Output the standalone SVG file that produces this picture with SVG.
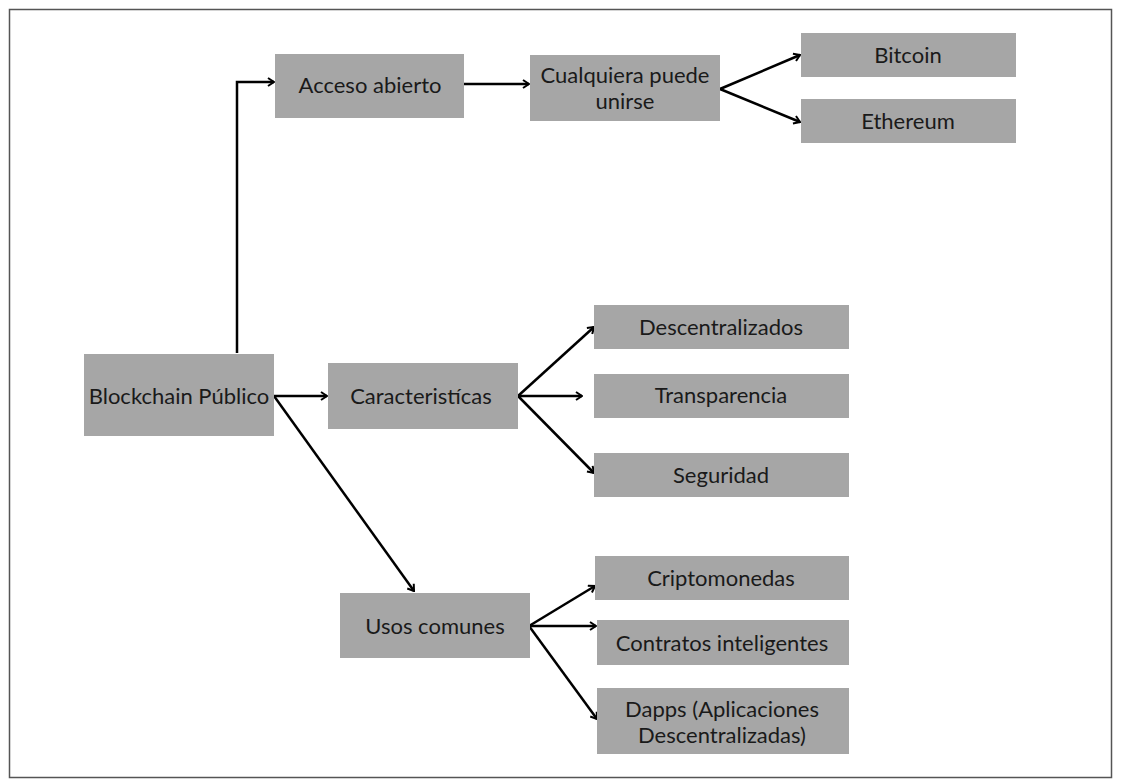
<svg xmlns="http://www.w3.org/2000/svg" width="1122" height="781" viewBox="0 0 1122 781">
<defs>
<marker id="arr" viewBox="0 0 10 10" refX="9" refY="5" markerWidth="10" markerHeight="10" markerUnits="userSpaceOnUse" orient="auto">
<path d="M3,1 L9,5 L3,9" fill="none" stroke="#000" stroke-width="2"/>
</marker>
<style>
.box{fill:#a6a6a6;}
.t{font-family:Lato,"Liberation Sans",sans-serif;font-size:22px;fill:#1a1a1a;text-anchor:middle;dominant-baseline:central;}
.c{fill:none;stroke:#000;stroke-width:2.5;marker-end:url(#arr);}
</style>
</defs>
<rect x="9.5" y="9.5" width="1102" height="768" fill="#fff" stroke="#555" stroke-width="1.5"/>
<g id="connectors">
<path class="c" d="M237,353 V82 H274"/>
<path class="c" d="M463,84 H529"/>
<path class="c" d="M720,89 L800,55"/>
<path class="c" d="M720,89 L800,122"/>
<path class="c" d="M274,396 H327"/>
<path class="c" d="M274,396 L414,591"/>
<path class="c" d="M518,396 L594,327"/>
<path class="c" d="M518,396 L582,396"/>
<path class="c" d="M518,396 L594,473"/>
<path class="c" d="M529,626 L595,586"/>
<path class="c" d="M529,626 L596,626"/>
<path class="c" d="M529,626 L597,719"/>
</g>
<g id="n-blockchain"><rect class="box" x="84" y="354" width="190" height="82"/><text class="t" x="179" y="395">Blockchain Público</text></g>
<g id="n-acceso"><rect class="box" x="275" y="54" width="189" height="64"/><text class="t" x="370" y="84">Acceso abierto</text></g>
<g id="n-cualquiera"><rect class="box" x="530" y="55" width="190" height="66"/><text class="t" x="625" y="74">Cualquiera puede</text><text class="t" x="625" y="100">unirse</text></g>
<g id="n-bitcoin"><rect class="box" x="801" y="33" width="215" height="44"/><text class="t" x="908" y="54">Bitcoin</text></g>
<g id="n-ethereum"><rect class="box" x="801" y="99" width="215" height="44"/><text class="t" x="908" y="120">Ethereum</text></g>
<g id="n-caracteristicas"><rect class="box" x="328" y="363" width="190" height="66"/><text class="t" x="421" y="395">Caracteristícas</text></g>
<g id="n-descentralizados"><rect class="box" x="594" y="305" width="255" height="44"/><text class="t" x="721" y="326">Descentralizados</text></g>
<g id="n-transparencia"><rect class="box" x="594" y="374" width="255" height="44"/><text class="t" x="721" y="394">Transparencia</text></g>
<g id="n-seguridad"><rect class="box" x="594" y="453" width="255" height="44"/><text class="t" x="721" y="474">Seguridad</text></g>
<g id="n-usos"><rect class="box" x="340" y="593" width="190" height="65"/><text class="t" x="435" y="625">Usos comunes</text></g>
<g id="n-cripto"><rect class="box" x="595" y="556" width="254" height="44"/><text class="t" x="721" y="577">Criptomonedas</text></g>
<g id="n-contratos"><rect class="box" x="597" y="620" width="252" height="45"/><text class="t" x="722" y="642">Contratos inteligentes</text></g>
<g id="n-dapps"><rect class="box" x="597" y="688" width="252" height="66"/><text class="t" x="722" y="708">Dapps (Aplicaciones</text><text class="t" x="722" y="734">Descentralizadas)</text></g>
</svg>
